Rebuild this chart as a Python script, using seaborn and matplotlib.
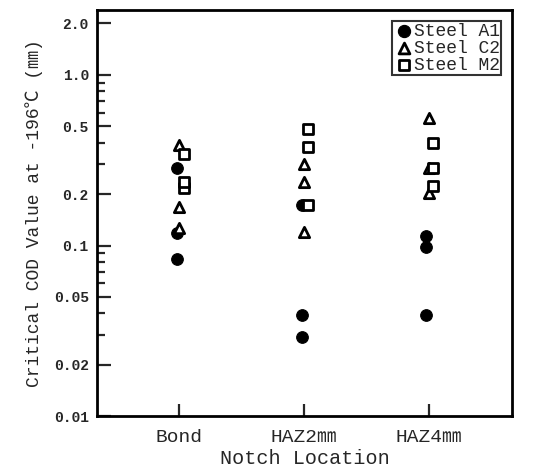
import numpy as np
import pandas as pd
import matplotlib
matplotlib.use("Agg")
import matplotlib.pyplot as plt
from matplotlib.ticker import FixedLocator, NullFormatter
import seaborn as sns

# -------------------------------------------------
# data
# -------------------------------------------------
locations = ["Bond", "HAZ2㎜", "HAZ4㎜"]
steels = ["Steel A1", "Steel C2", "Steel M2"]

a1_loc = ["Bond", "Bond", "Bond", "HAZ2㎜", "HAZ2㎜", "HAZ2㎜", "HAZ4㎜", "HAZ4㎜", "HAZ4㎜"]
a1_cod = [0.284, 0.119, 0.083, 0.173, 0.039, 0.029, 0.114, 0.098, 0.039]

c2_loc = ["Bond", "Bond", "Bond", "HAZ2㎜", "HAZ2㎜", "HAZ2㎜", "HAZ4㎜", "HAZ4㎜", "HAZ4㎜"]
c2_cod = [0.389, 0.168, 0.126, 0.299, 0.237, 0.120, 0.557, 0.284, 0.202]

m2_loc = ["Bond", "Bond", "Bond", "HAZ2㎜", "HAZ2㎜", "HAZ2㎜", "HAZ4㎜", "HAZ4㎜", "HAZ4㎜"]
m2_cod = [0.343, 0.216, 0.237, 0.480, 0.380, 0.173, 0.401, 0.284, 0.223]

yticks = [0.01, 0.02, 0.05, 0.1, 0.2, 0.5, 1.0, 2.0]
ytick_labels = ["0.01", "0.02", "0.05", "0.1", "0.2", "0.5", "1.0", "2.0"]
yminor = [0.03, 0.04, 0.06, 0.07, 0.08, 0.09, 0.3, 0.4, 0.6, 0.7, 0.8, 0.9]

# -------------------------------------------------
# build a long table
# -------------------------------------------------
frames = []
for name, loc, cod in [(steels[0], a1_loc, a1_cod),
                       (steels[1], c2_loc, c2_cod),
                       (steels[2], m2_loc, m2_cod)]:
    frames.append(pd.DataFrame({"steel": name, "loc": loc, "cod": cod}))
df = pd.concat(frames, ignore_index=True)
df["x"] = df["loc"].map({k: i for i, k in enumerate(locations)})

# small horizontal nudge per series so the marks do not sit on top of each other
nudge = {"Steel A1": -0.02, "Steel C2": 0.0, "Steel M2": 0.035}
df["x"] = df["x"] + df["steel"].map(nudge)

# -------------------------------------------------
# plot
# -------------------------------------------------
sns.set_style("white")
plt.rcParams["font.family"] = ["Liberation Mono", "Noto Sans CJK JP", "DejaVu Sans"]

fig = plt.figure(figsize=(5.49, 4.73), dpi=100)
ax = fig.add_axes([0.177, 0.120, 0.756, 0.859])

styles = {
    "Steel A1": dict(marker="o", s=70, facecolor="black", edgecolor="black", linewidth=0.8),
    "Steel C2": dict(marker="^", s=55, facecolor="white", edgecolor="black", linewidth=2.0),
    "Steel M2": dict(marker="s", s=50, facecolor="white", edgecolor="black", linewidth=2.0),
}
for name in steels:
    sub = df[df["steel"] == name]
    sns.scatterplot(data=sub, x="x", y="cod", ax=ax, label=name, zorder=3, **styles[name])

ax.set_yscale("log")
ax.set_ylim(0.01, 2.4)
ax.set_xlim(-0.66, 2.67)

ax.yaxis.set_major_locator(FixedLocator(yticks))
ax.set_yticklabels(ytick_labels, fontsize=10.5, fontweight="bold")
ax.yaxis.set_minor_locator(FixedLocator(yminor))
ax.yaxis.set_minor_formatter(NullFormatter())

ax.set_xticks(range(len(locations)))
ax.set_xticklabels(locations, fontsize=14)

ax.tick_params(axis="y", which="major", direction="in", length=10, width=1.6, left=True, pad=6)
ax.tick_params(axis="y", which="minor", direction="in", length=6, width=1.6, left=True)
ax.tick_params(axis="x", which="major", direction="in", length=9, width=1.6, bottom=True, pad=9)

for sp in ax.spines.values():
    sp.set_color("black")
    sp.set_linewidth(2)

ax.set_xlabel("Notch Location", fontsize=14.5, labelpad=2)
ax.set_ylabel("Critical COD Value at -196℃ (㎜)", fontsize=13, labelpad=8)

leg = ax.legend(loc="upper right", fontsize=13, frameon=True, fancybox=False,
                edgecolor="black", borderpad=0.1, handletextpad=0.0,
                labelspacing=0.0, borderaxespad=0.6, handlelength=1.1, markerscale=1.05)
leg.get_frame().set_linewidth(1.5)

plt.savefig("out.png", dpi=100)
